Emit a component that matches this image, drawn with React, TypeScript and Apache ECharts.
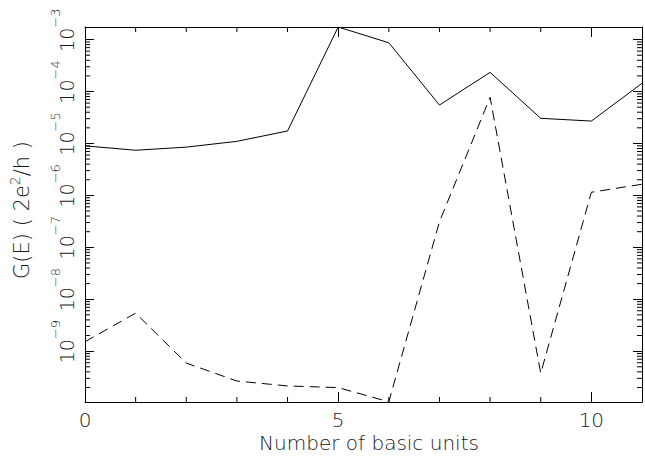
import React, { useEffect, useRef } from "react";
import * as echarts from "echarts";

// Number of basic units (x)
const units = [0, 1, 2, 3, 4, 5, 6, 7, 8, 9, 10, 11];
// G(E) in units of 2e^2/h — solid curve
const solidG = [9.0e-6, 7.4e-6, 8.5e-6, 1.1e-5, 1.74e-5, 1.75e-3, 8.7e-4, 5.5e-5, 2.34e-4, 3.05e-5, 2.7e-5, 1.44e-4];
// G(E) — dashed curve
const dashedG = [1.52e-9, 5.4e-9, 5.9e-10, 2.66e-10, 2.14e-10, 1.99e-10, 1.06e-10, 3.1e-7, 7.75e-5, 3.75e-10, 1.15e-6, 1.64e-6];

const xMin = 0;
const xMax = 11;
const yMin = 1.05e-10;
const yMax = 1.75e-3;
const xMinorTicks = [1, 2, 3, 4, 6, 7, 8, 9];
const yDecades = [-10, -9, -8, -7, -6, -5, -4, -3];
const yMinorMultipliers = [2, 3, 4, 5, 6, 7, 8, 9];

const FONT = "DejaVu Sans";
const INK = "#000";
const TEXT = "#1a1a1a";
const WEIGHT = 300;

export default function App() {
  const ref = useRef<HTMLDivElement>(null);

  useEffect(() => {
    if (!ref.current) return;
    const chart = echarts.init(ref.current, undefined, { renderer: "svg" });

    const yMinorValues: number[] = [];
    yDecades.forEach((d) => {
      yMinorMultipliers.forEach((m) => {
        const v = m * Math.pow(10, d);
        if (v > yMin && v < yMax) yMinorValues.push(v);
      });
    });

    const yLabel = (v: number) => {
      const e = Math.log10(v);
      const r = Math.round(e);
      if (Math.abs(e - r) > 1e-6) return "";
      const exp = (r < 0 ? "\u2212" : "") + Math.abs(r);
      return `{p|${exp}}{b|10}{s|${exp}}`;
    };

    const tickLine = (x1: number, y1: number, x2: number, y2: number) => ({
      type: "line",
      shape: { x1, y1, x2, y2 },
      style: { stroke: INK, lineWidth: 1 },
      silent: true,
    });

    const option: any = {
      animation: false,
      backgroundColor: "#fff",
      grid: { left: 85, right: 1, top: 27, bottom: 57, containLabel: false },
      xAxis: [
        {
          type: "value",
          position: "bottom",
          min: xMin,
          max: xMax,
          interval: 5,
          axisLine: { show: true, onZero: false, lineStyle: { color: INK, width: 1 } },
          axisTick: { show: true, inside: true, length: 10, lineStyle: { color: INK, width: 1 } },
          splitLine: { show: false },
          axisLabel: {
            show: true,
            margin: 8,
            color: TEXT,
            fontFamily: FONT,
            fontWeight: WEIGHT,
            fontSize: 20,
            formatter: (v: number) => (v % 5 === 0 ? String(v) : ""),
          },
        },
        {
          type: "value",
          position: "top",
          min: xMin,
          max: xMax,
          interval: 5,
          axisLine: { show: true, onZero: false, lineStyle: { color: INK, width: 1 } },
          axisTick: { show: true, inside: true, length: 10, lineStyle: { color: INK, width: 1 } },
          splitLine: { show: false },
          axisLabel: { show: false },
        },
      ],
      yAxis: [
        {
          type: "log",
          logBase: 10,
          position: "left",
          min: yMin,
          max: yMax,
          splitNumber: 7,
          axisLine: { show: true, onZero: false, lineStyle: { color: INK, width: 1 } },
          axisTick: { show: true, inside: true, length: 9, lineStyle: { color: INK, width: 1 } },
          splitLine: { show: false },
          axisLabel: {
            show: true,
            rotate: 90,
            margin: 9,
            color: TEXT,
            fontFamily: FONT,
            fontWeight: WEIGHT,
            formatter: yLabel,
            rich: {
              p: { fontFamily: FONT, fontWeight: WEIGHT, fontSize: 13, lineHeight: 27, verticalAlign: "top", color: "rgba(0,0,0,0)" },
              b: { fontFamily: FONT, fontWeight: WEIGHT, fontSize: 19, lineHeight: 19, verticalAlign: "bottom", color: TEXT },
              s: { fontFamily: FONT, fontWeight: WEIGHT, fontSize: 13, lineHeight: 13, verticalAlign: "top", color: TEXT },
            },
          },
        },
        {
          type: "log",
          logBase: 10,
          position: "right",
          min: yMin,
          max: yMax,
          splitNumber: 7,
          axisLine: { show: true, onZero: false, lineStyle: { color: INK, width: 1 } },
          axisTick: { show: true, inside: true, length: 9, lineStyle: { color: INK, width: 1 } },
          splitLine: { show: false },
          axisLabel: { show: false },
        },
      ],
      graphic: [
        {
          type: "text",
          x: 369,
          y: 443,
          style: {
            text: "Number of basic units",
            fontFamily: FONT,
            fontWeight: WEIGHT,
            fontSize: 20,
            fill: TEXT,
            align: "center",
            verticalAlign: "middle",
          },
        },
        {
          type: "text",
          x: 21.5,
          y: 210,
          rotation: Math.PI / 2,
          style: {
            text: "G(E) ( 2e{s|2}/h )",
            fontFamily: FONT,
            fontWeight: WEIGHT,
            fontSize: 21,
            lineHeight: 28,
            fill: TEXT,
            align: "center",
            verticalAlign: "middle",
            rich: {
              s: { fontFamily: FONT, fontWeight: WEIGHT, fontSize: 14, lineHeight: 14, verticalAlign: "top", fill: TEXT },
            },
          },
        },
      ],
      series: [
        {
          name: "solid",
          type: "line",
          xAxisIndex: 0,
          yAxisIndex: 0,
          data: units.map((u, i) => [u, solidG[i]]),
          symbol: "none",
          showSymbol: false,
          lineStyle: { color: INK, width: 1, type: "solid" },
        },
        {
          name: "dashed",
          type: "line",
          xAxisIndex: 0,
          yAxisIndex: 0,
          data: units.map((u, i) => [u, dashedG[i]]),
          symbol: "none",
          showSymbol: false,
          lineStyle: { color: INK, width: 1, type: [10, 6] },
        },
        {
          name: "minorTicks",
          type: "custom",
          xAxisIndex: 0,
          yAxisIndex: 0,
          silent: true,
          clip: false,
          data: [[xMin, yMin]],
          renderItem: (_params: any, api: any) => {
            const children: any[] = [];
            const leftX = api.coord([xMin, yMin])[0];
            const rightX = api.coord([xMax, yMin])[0];
            const bottomY = api.coord([xMin, yMin])[1];
            const topY = api.coord([xMin, yMax])[1];
            yMinorValues.forEach((v) => {
              const py = api.coord([xMin, v])[1];
              children.push(tickLine(leftX, py, leftX + 5, py));
              children.push(tickLine(rightX, py, rightX - 5, py));
            });
            xMinorTicks.forEach((u) => {
              const px = api.coord([u, yMin])[0];
              children.push(tickLine(px, bottomY, px, bottomY - 5));
              children.push(tickLine(px, topY, px, topY + 5));
            });
            return { type: "group", children };
          },
        },
      ],
    };

    chart.setOption(option);
    return () => chart.dispose();
  }, []);

  return (
    <div
      ref={ref}
      style={{ position: "fixed", left: 0, top: 0, width: 645, height: 459, background: "#fff" }}
    />
  );
}
